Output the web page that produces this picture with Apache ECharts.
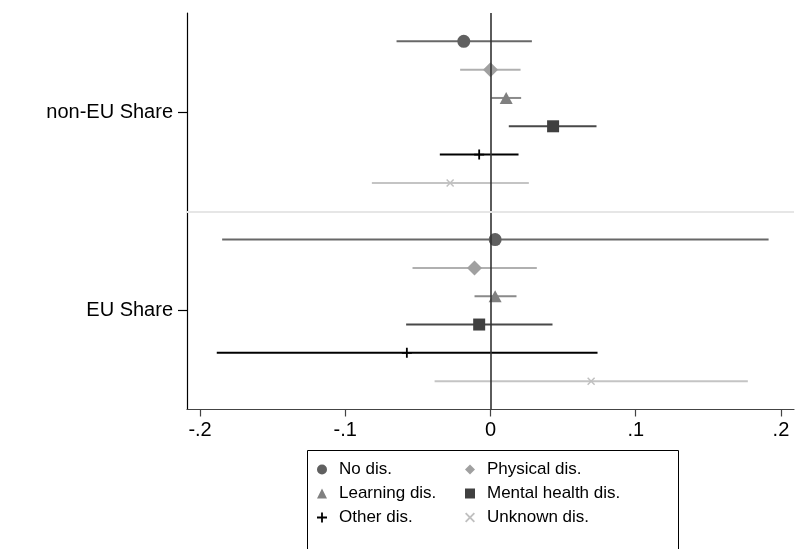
<!DOCTYPE html>
<html>
<head>
<meta charset="utf-8">
<script src="https://cdn.jsdelivr.net/npm/echarts@6/dist/echarts.min.js"></script>
<style>
  html, body { margin: 0; padding: 0; background: #fff; }
  #chart { width: 808px; height: 549px; }
</style>
</head>
<body>
<div id="chart"></div>
<script>
// Coefficient plot: point estimates with confidence intervals by disability type
const groups = ['non-EU Share', 'EU Share'];
const seriesNames = ['No dis.', 'Physical dis.', 'Learning dis.', 'Mental health dis.', 'Other dis.', 'Unknown dis.'];

// non-EU Share: estimate, lower bound, upper bound (one entry per disability type)
const estNonEU = [-0.0184, 0.0000, 0.0108, 0.0431, -0.0078, -0.0278];
const loNonEU  = [-0.0647, -0.0209, 0.0007, 0.0126, -0.0349, -0.0817];
const hiNonEU  = [0.0285, 0.0207, 0.0211, 0.0730, 0.0193, 0.0264];

// EU Share
const estEU = [0.0032, -0.0110, 0.0032, -0.0078, -0.0576, 0.0693];
const loEU  = [-0.1848, -0.0537, -0.0110, -0.0581, -0.1885, -0.0385];
const hiEU  = [0.1915, 0.0319, 0.0179, 0.0427, 0.0737, 0.1772];

const xTicks = [-0.2, -0.1, 0, 0.1, 0.2];
const xTickLabels = ['-.2', '-.1', '0', '.1', '.2'];

// styling per disability type
const markerColors = ['#606060', '#a0a0a0', '#808080', '#404040', '#000000', '#c0c0c0'];
const lineColors   = ['#686868', '#b0b0b0', '#8a8a8a', '#484848', '#000000', '#c4c4c4'];
const plusPath  = 'path://M4.1,0h1.8v4.1h4.1v1.8h-4.1v4.1h-1.8v-4.1h-4.1v-1.8h4.1z';
const crossPath = 'path://M1.3,0L5,3.7L8.7,0L10,1.3L6.3,5L10,8.7L8.7,10L5,6.3L1.3,10L0,8.7L3.7,5L0,1.3z';
const symbols = ['circle', 'diamond', 'triangle', 'rect', plusPath, crossPath];
const symbolSizes = [13, [15, 15], [13, 12], 12, 10, 8];

// row layout: each group has one row per type, groups separated by a gap row
const rowsPerGroup = seriesNames.length + 1;
const rowOf = (g, i) => g * rowsPerGroup + i;
const groupCenter = g => g * rowsPerGroup + (seriesNames.length - 1) / 2;

const est = [estNonEU, estEU], lo = [loNonEU, loEU], hi = [hiNonEU, hiEU];

const series = [];
seriesNames.forEach((name, i) => {
  const ciData = groups.map((_, g) => [lo[g][i], hi[g][i], rowOf(g, i)]);
  series.push({
    type: 'custom',
    name: name + ' CI',
    silent: true,
    z: 2,
    data: ciData,
    encode: { x: [0, 1], y: 2 },
    renderItem: function (params, api) {
      const a = api.coord([api.value(0), api.value(2)]);
      const b = api.coord([api.value(1), api.value(2)]);
      return {
        type: 'line',
        shape: { x1: a[0], y1: a[1], x2: b[0], y2: b[1] },
        style: { stroke: lineColors[i], lineWidth: 2 }
      };
    }
  });
  series.push({
    type: 'scatter',
    name: name,
    z: 4,
    symbol: symbols[i],
    symbolSize: symbolSizes[i],
    itemStyle: { color: markerColors[i], opacity: 1 },
    data: groups.map((_, g) => [est[g][i], rowOf(g, i)])
  });
});

// reference lines: zero effect and group separator
series.push({
  type: 'scatter',
  name: 'ref',
  data: [],
  z: 3,
  markLine: {
    silent: true,
    symbol: 'none',
    label: { show: false },
    animation: false,
    data: [
      { xAxis: 0, lineStyle: { color: '#333333', width: 1.6, type: 'solid' } }
    ]
  }
});
series.push({
  type: 'scatter',
  name: 'sep',
  data: [],
  z: 1,
  markLine: {
    silent: true,
    symbol: 'none',
    label: { show: false },
    animation: false,
    data: [
      { yAxis: rowsPerGroup - 1, lineStyle: { color: '#e6e6e6', width: 2, type: 'solid' } }
    ]
  }
});

const font = 'Liberation Sans, Arial, sans-serif';
const legendText = { color: '#000', fontFamily: font, fontSize: 17, padding: [0, 0, 0, 7] };
const legendItem = i => ({ name: seriesNames[i], icon: symbols[i], itemStyle: { color: markerColors[i] } });

const chart = echarts.init(document.getElementById('chart'), null, { renderer: 'canvas' });
chart.setOption({
  animation: false,
  backgroundColor: '#ffffff',
  grid: { left: 187, right: 14, top: 13, bottom: 139.5, containLabel: false },
  xAxis: {
    type: 'value',
    min: -0.209,
    max: 0.209,
    axisLine: { show: true, onZero: false, lineStyle: { color: '#444', width: 1.2 } },
    axisTick: { show: true, customValues: xTicks, length: 7, lineStyle: { color: '#444', width: 1.2 } },
    axisLabel: {
      customValues: xTicks,
      formatter: v => xTickLabels[xTicks.findIndex(t => Math.abs(t - v) < 1e-9)],
      color: '#000', fontFamily: font, fontSize: 20, margin: 11
    },
    splitLine: { show: false }
  },
  yAxis: {
    type: 'value',
    inverse: true,
    min: -1,
    max: rowsPerGroup * 2 - 1,
    axisLine: { show: true, onZero: false, lineStyle: { color: '#000', width: 1.2 } },
    axisTick: { show: true, customValues: groups.map((_, g) => groupCenter(g)), length: 9, lineStyle: { color: '#000', width: 1.2 } },
    axisLabel: {
      customValues: groups.map((_, g) => groupCenter(g)),
      formatter: v => groups[Math.round((v - groupCenter(0)) / rowsPerGroup)],
      color: '#000', fontFamily: font, fontSize: 20, margin: 14
    },
    splitLine: { show: false }
  },
  legend: [
    {
      orient: 'vertical', left: 312, top: 456, itemWidth: 10, itemHeight: 10, itemGap: 7,
      textStyle: legendText, selectedMode: false,
      data: [0, 2, 4].map(legendItem)
    },
    {
      orient: 'vertical', left: 460, top: 456, itemWidth: 10, itemHeight: 10, itemGap: 7,
      textStyle: legendText, selectedMode: false,
      data: [1, 3, 5].map(legendItem)
    }
  ],
  graphic: [
    {
      type: 'rect',
      left: 305, top: 448,
      shape: { width: 371, height: 120 },
      style: { fill: 'none', stroke: '#000', lineWidth: 1 },
      silent: true
    }
  ],
  series: series
});
</script>
</body>
</html>
